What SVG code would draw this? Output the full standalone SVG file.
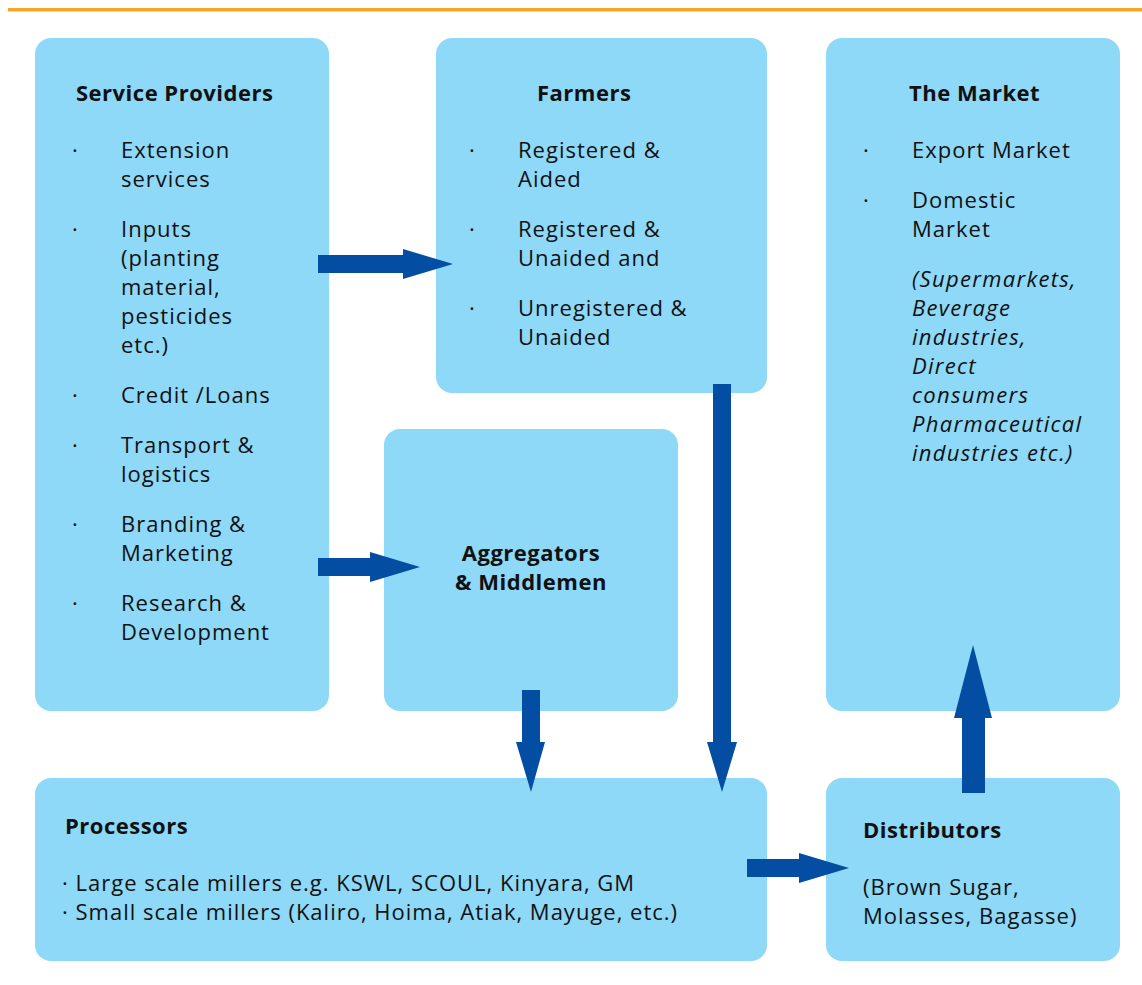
<svg xmlns="http://www.w3.org/2000/svg" width="1142" height="985" viewBox="0 0 1142 985">
  <defs>
    <style>
      .box { fill: #8ED8F8; }
      .arrow { fill: #034EA2; }
      text { font-family: "Open Sans", "Noto Sans", sans-serif; font-size: 22px; letter-spacing: 1px; fill: #111111; }
      .title { font-weight: bold; letter-spacing: 0.5px; }
      .it { font-style: italic; letter-spacing: 1.3px; }
      .mid { text-anchor: middle; }
    </style>
  </defs>
  <rect x="0" y="0" width="1142" height="985" fill="#ffffff"/>
  <!-- top rule -->
  <rect x="8" y="8" width="1134" height="3.5" fill="#F5A623"/>

  <g id="service-providers">
    <rect class="box" x="35" y="38" width="294" height="673" rx="16"/>
    <text class="title" x="76" y="101">Service Providers</text>
    <text x="72" y="158">·</text><text x="121" y="158">Extension</text>
    <text x="121" y="187">services</text>
    <text x="72" y="237">·</text><text x="121" y="237">Inputs</text>
    <text x="121" y="266">(planting</text>
    <text x="121" y="295">material,</text>
    <text x="121" y="324">pesticides</text>
    <text x="121" y="353">etc.)</text>
    <text x="72" y="403">·</text><text x="121" y="403">Credit /Loans</text>
    <text x="72" y="453">·</text><text x="121" y="453">Transport &amp;</text>
    <text x="121" y="482">logistics</text>
    <text x="72" y="532">·</text><text x="121" y="532">Branding &amp;</text>
    <text x="121" y="561">Marketing</text>
    <text x="72" y="611">·</text><text x="121" y="611">Research &amp;</text>
    <text x="121" y="640">Development</text>
  </g>

  <g id="farmers">
    <rect class="box" x="436" y="38" width="331" height="355" rx="16"/>
    <text class="title" x="537" y="101">Farmers</text>
    <text x="469" y="158">·</text><text x="518" y="158">Registered &amp;</text>
    <text x="518" y="187">Aided</text>
    <text x="469" y="237">·</text><text x="518" y="237">Registered &amp;</text>
    <text x="518" y="266">Unaided and</text>
    <text x="469" y="316">·</text><text x="518" y="316">Unregistered &amp;</text>
    <text x="518" y="345">Unaided</text>
  </g>

  <g id="market">
    <rect class="box" x="826" y="38" width="294" height="673" rx="16"/>
    <text class="title" x="909" y="101">The Market</text>
    <text x="863" y="158">·</text><text x="912" y="158">Export Market</text>
    <text x="863" y="208">·</text><text x="912" y="208">Domestic</text>
    <text x="912" y="237">Market</text>
    <text class="it" x="912" y="287">(Supermarkets,</text>
    <text class="it" x="912" y="316">Beverage</text>
    <text class="it" x="912" y="345">industries,</text>
    <text class="it" x="912" y="374">Direct</text>
    <text class="it" x="912" y="403">consumers</text>
    <text class="it" x="912" y="432">Pharmaceutical</text>
    <text class="it" x="912" y="461">industries etc.)</text>
  </g>

  <g id="aggregators">
    <rect class="box" x="384" y="429" width="294" height="282" rx="16"/>
    <text class="title mid" x="531" y="561">Aggregators</text>
    <text class="title mid" x="531" y="590">&amp; Middlemen</text>
  </g>

  <g id="processors">
    <rect class="box" x="35" y="778" width="732" height="183" rx="16"/>
    <text class="title" x="65" y="834">Processors</text>
    <text x="62" y="891">· Large scale millers e.g. KSWL, SCOUL, Kinyara, GM</text>
    <text x="62" y="920">· Small scale millers (Kaliro, Hoima, Atiak, Mayuge, etc.)</text>
  </g>

  <g id="distributors">
    <rect class="box" x="826" y="778" width="294" height="183" rx="16"/>
    <text class="title" x="863" y="838">Distributors</text>
    <text x="863" y="895">(Brown Sugar,</text>
    <text x="863" y="924">Molasses, Bagasse)</text>
  </g>

  <g id="connectors">
    <!-- service providers -> farmers -->
    <polygon class="arrow" points="318,255 403,255 403,249 453,264 403,279 403,273 318,273"/>
    <!-- service providers -> aggregators -->
    <polygon class="arrow" points="318,558 370,558 370,552 420,567 370,582 370,576 318,576"/>
    <!-- aggregators -> processors -->
    <polygon class="arrow" points="522,690 540,690 540,742 545,742 531,792 516,742 522,742"/>
    <!-- farmers -> processors -->
    <polygon class="arrow" points="713,384 731,384 731,742 737,742 722,792 707,742 713,742"/>
    <!-- processors -> distributors -->
    <polygon class="arrow" points="747,859 799,859 799,853 849,868 799,883 799,877 747,877"/>
    <!-- distributors -> market -->
    <polygon class="arrow" points="962,793 985,793 985,718 992,718 973,645 954,718 962,718"/>
  </g>
</svg>
